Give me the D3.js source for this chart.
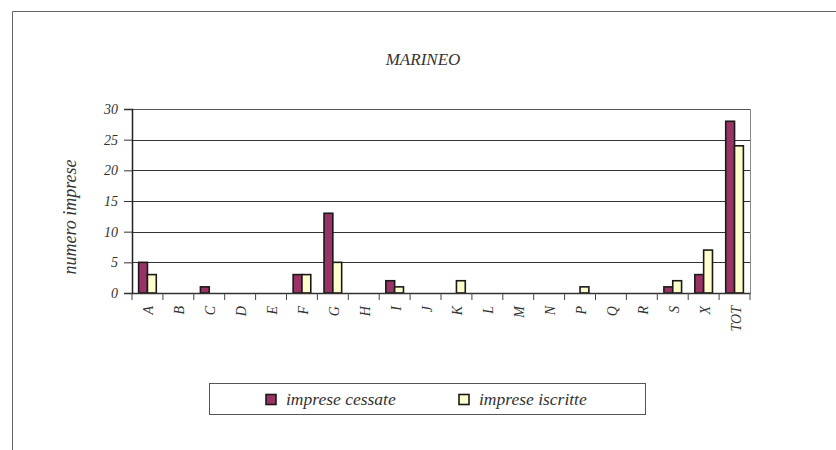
<!DOCTYPE html>
<html><head><meta charset="utf-8">
<script src="https://cdn.jsdelivr.net/npm/d3@7"></script>
<style>
html,body{margin:0;padding:0;background:#fff;}
</style></head>
<body>
<svg id="c" width="836" height="450"></svg>
<script>
const categories = ["A","B","C","D","E","F","G","H","I","J","K","L","M","N","P","Q","R","S","X","TOT"];
const cessate   = [5,0,1,0,0,3,13,0,2,0,0,0,0,0,0,0,0,1,3,28];
const iscritte  = [3,0,0,0,0,3,5,0,1,0,2,0,0,0,1,0,0,2,7,24];
const seriesNames = ["imprese cessate","imprese iscritte"];
const seriesColors = ["#993366","#FFFFCC"];
const yTicks = [0,5,10,15,20,25,30];
const title = "MARINEO";
const yTitle = "numero imprese";

const FF = "'Liberation Serif','Times New Roman',Times,serif";
const svg = d3.select("#c");
svg.append("path").attr("d","M12.5,450 V11.5 H836").attr("fill","none").attr("stroke","#666").attr("stroke-width",1);

const L=132, R=750, T=109, B=293;
const x = d3.scaleBand().domain(categories).range([L,R]).paddingInner(0).paddingOuter(0);
const y = d3.scaleLinear().domain([0,30]).range([B,T]);
const bw = x.bandwidth()/3.5;
const xs = d3.scaleBand().domain([0,1]).range([0,2*bw]);

svg.append("g").selectAll("line").data(yTicks.filter(d=>d>0)).join("line")
  .attr("x1",L).attr("x2",R).attr("y1",d=>Math.round(y(d))+0.5).attr("y2",d=>Math.round(y(d))+0.5)
  .attr("stroke",d=>d===30?"#555":"#333").attr("stroke-width",1);
svg.append("line").attr("x1",R+0.5).attr("x2",R+0.5).attr("y1",T).attr("y2",B).attr("stroke","#888");

const data = categories.map((c,i)=>({c, v:[cessate[i],iscritte[i]]}));
const g = svg.append("g");
data.forEach(d=>{
  d.v.forEach((v,s)=>{
    if(v<=0) return;
    const x0 = x(d.c) + (x.bandwidth()-2*bw)/2 + xs(s);
    g.append("rect").attr("x",x0).attr("y",y(v)).attr("width",bw).attr("height",y(0)-y(v))
      .attr("fill",seriesColors[s]).attr("stroke","#1a1a1a").attr("stroke-width",1.6);
  });
});

const ya = svg.append("g").attr("transform",`translate(${L},0)`)
  .call(d3.axisLeft(y).tickValues(yTicks).tickSize(8).tickPadding(6));
ya.attr("font-family",null);
ya.select(".domain").attr("stroke","#222").attr("stroke-width",1.5);
ya.selectAll(".tick line").attr("stroke","#333");
ya.selectAll("text").style("font-family",FF).style("font-style","italic").style("font-size","14px").attr("fill","#333");

const xa = svg.append("g").attr("transform",`translate(0,${B})`)
  .call(d3.axisBottom(x).tickSize(0).tickFormat(""));
xa.attr("font-family",null);
xa.select(".domain").attr("stroke","#333").attr("stroke-width",1.5);
const bounds = categories.map(c=>x(c)).concat([R]);
xa.selectAll("line.b").data(bounds).join("line").attr("class","b")
  .attr("x1",d=>d).attr("x2",d=>d).attr("y1",0).attr("y2",7).attr("stroke","#444");
xa.selectAll("text.lab").data(categories).join("text").attr("class","lab")
  .attr("transform",d=>`translate(${x(d)+x.bandwidth()/2+6},13) rotate(-90)`)
  .attr("text-anchor","end").style("font-family",FF).style("font-style","italic").style("font-size","14px")
  .attr("fill","#333").text(d=>d);

svg.append("text").attr("x",423).attr("y",65).attr("text-anchor","middle")
  .style("font-family",FF).style("font-style","italic").style("font-size","17px").attr("fill","#333").text(title);
svg.append("text").attr("transform",`translate(76,217) rotate(-90)`).attr("text-anchor","middle")
  .style("font-family",FF).style("font-style","italic").style("font-size","18px").attr("fill","#333").text(yTitle);

svg.append("rect").attr("x",209.5).attr("y",383.5).attr("width",436).attr("height",31).attr("fill","#fff").attr("stroke","#555");
const lx=[266,459];
seriesNames.forEach((n,i)=>{
  svg.append("rect").attr("x",lx[i]).attr("y",394.5).attr("width",10).attr("height",10)
    .attr("fill",seriesColors[i]).attr("stroke","#1a1a1a").attr("stroke-width",1.6);
  svg.append("text").attr("x",lx[i]+20).attr("y",405)
    .style("font-family",FF).style("font-style","italic").style("font-size","17.5px").attr("fill","#333").text(n);
});
</script>
</body></html>
